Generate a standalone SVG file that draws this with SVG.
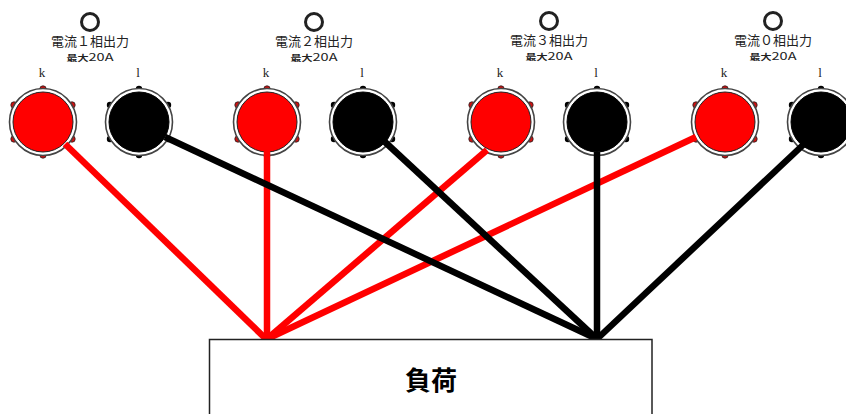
<svg xmlns="http://www.w3.org/2000/svg" width="846" height="414" viewBox="0 0 846 414">
<style>
text{font-family:"Noto Sans CJK JP","Liberation Sans",sans-serif;text-anchor:middle;fill:#222}
.t{font-size:13px}
.m{font-size:10.500px}
.s{font-size:8px;font-weight:700}
.p{font-family:"Liberation Serif",serif;font-size:13px}
.lamp{fill:none;stroke:#222;stroke-width:3}
.ring{fill:#fff;stroke:#444;stroke-width:1.600}
.r{fill:#f00;stroke:#222;stroke-width:1}
.b{fill:#000;stroke:#000;stroke-width:1}
.dr{fill:#d01010;stroke:#222;stroke-width:.8}
.db{fill:#000}
.wr{stroke:#f00;stroke-width:6.500;fill:none}
.wb{stroke:#000;stroke-width:6.500;fill:none}
</style>
<defs>
<g id="dotsR"><circle class="dr" cx="0" cy="-33" r="3.200"/><circle class="dr" cx="29" cy="-17" r="3.200"/><circle class="dr" cx="29" cy="17" r="3.200"/><circle class="dr" cx="0" cy="33" r="3.200"/><circle class="dr" cx="-29" cy="17" r="3.200"/><circle class="dr" cx="-29" cy="-17" r="3.200"/></g>
<g id="dotsB"><circle class="db" cx="0" cy="-33" r="3.200"/><circle class="db" cx="29" cy="-17" r="3.200"/><circle class="db" cx="29" cy="17" r="3.200"/><circle class="db" cx="0" cy="33" r="3.200"/><circle class="db" cx="-29" cy="17" r="3.200"/><circle class="db" cx="-29" cy="-17" r="3.200"/></g>
<g id="termR"><use href="#dotsR"/><circle class="ring" r="33.500"/><circle class="r" r="30"/></g>
<g id="termB"><use href="#dotsB"/><circle class="ring" r="33.500"/><circle class="b" r="30"/></g>
</defs>
<g id="terminals">
<g id="t1k"><use href="#termR" x="43" y="122"/><text class="p" x="42" y="77">k</text></g>
<g id="t1l"><use href="#termB" x="139" y="122"/><text class="p" x="138" y="77">l</text></g>
<g id="t2k"><use href="#termR" x="267" y="122"/><text class="p" x="266" y="77">k</text></g>
<g id="t2l"><use href="#termB" x="363" y="122"/><text class="p" x="362" y="77">l</text></g>
<g id="t3k"><use href="#termR" x="501" y="122"/><text class="p" x="500" y="77">k</text></g>
<g id="t3l"><use href="#termB" x="597" y="122"/><text class="p" x="596" y="77">l</text></g>
<g id="t4k"><use href="#termR" x="725" y="122"/><text class="p" x="724" y="77">k</text></g>
<g id="t4l"><use href="#termB" x="821" y="122"/><text class="p" x="820" y="77">l</text></g>
</g>
<g id="labels">
<g id="l1"><circle class="lamp" cx="90" cy="22" r="8.500"/><text class="t" x="90" y="46" textLength="78" lengthAdjust="spacingAndGlyphs">電流１相出力</text><text class="m" x="90" y="60.500" textLength="47" lengthAdjust="spacingAndGlyphs"><tspan class="s">最大</tspan>20A</text></g>
<g id="l2"><circle class="lamp" cx="314" cy="22" r="8.500"/><text class="t" x="314" y="46" textLength="78" lengthAdjust="spacingAndGlyphs">電流２相出力</text><text class="m" x="314" y="60.500" textLength="47" lengthAdjust="spacingAndGlyphs"><tspan class="s">最大</tspan>20A</text></g>
<g id="l3"><circle class="lamp" cx="549" cy="21" r="8.500"/><text class="t" x="549" y="45" textLength="78" lengthAdjust="spacingAndGlyphs">電流３相出力</text><text class="m" x="549" y="59.500" textLength="47" lengthAdjust="spacingAndGlyphs"><tspan class="s">最大</tspan>20A</text></g>
<g id="l4"><circle class="lamp" cx="773" cy="21" r="8.500"/><text class="t" x="773" y="45" textLength="78" lengthAdjust="spacingAndGlyphs">電流０相出力</text><text class="m" x="773" y="59.500" textLength="47" lengthAdjust="spacingAndGlyphs"><tspan class="s">最大</tspan>20A</text></g>
</g>
<g id="connectors">
<path class="wr" d="M65 144L266 339"/>
<path class="wr" d="M267 150V339"/>
<path class="wr" d="M487 150L267 339"/>
<path class="wr" d="M696 137L267 339"/>
<path class="wb" d="M165 137L597 339"/>
<path class="wb" d="M385 142L597 339"/>
<path class="wb" d="M597 152V339"/>
<path class="wb" d="M803 145L597 339"/>
</g>
<g id="load"><rect x="209.500" y="339.500" width="442.500" height="90" fill="#fff" stroke="#222" stroke-width="1.500"/><text x="431" y="390" font-size="26" font-weight="700" style="fill:#000">負荷</text></g>
</svg>
